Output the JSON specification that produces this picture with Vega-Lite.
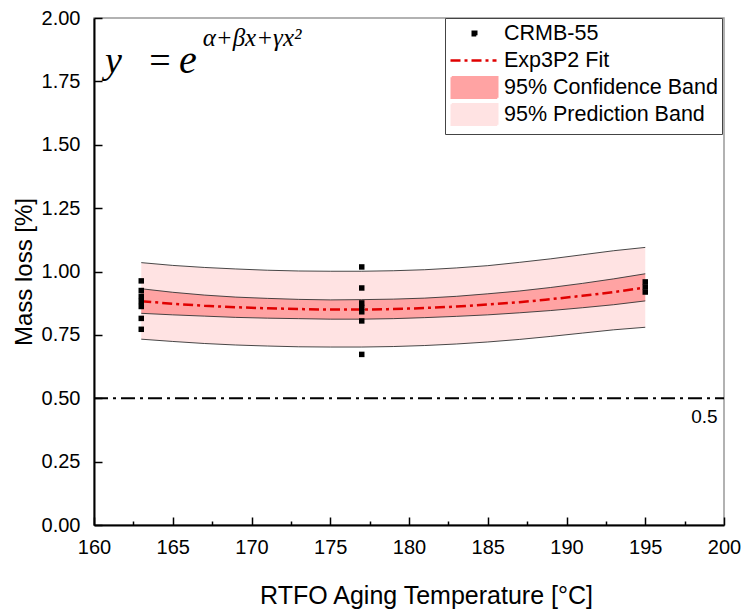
{
  "$schema": "https://vega.github.io/schema/vega-lite/v6.json",
  "width": 630,
  "height": 507,
  "autosize": {"type": "none"},
  "padding": {"left": 94, "top": 18, "right": 20, "bottom": 90},
  "background": "white",
  "config": {
    "view": {"stroke": "#999", "strokeWidth": 1.5},
    "font": "Liberation Sans",
    "legend": {
      "orient": "none",
      "legendX": 351,
      "legendY": 0,
      "direction": "vertical",
      "padding": 4,
      "strokeColor": "#444",
      "fillColor": "white",
      "labelFont": "Liberation Sans",
      "labelFontSize": 21.5,
      "labelColor": "black",
      "labelOffset": 32,
      "labelLimit": 400,
      "rowPadding": -4,
      "symbolSize": 400,
      "symbolStrokeWidth": 2.5
    }
  },
  "datasets": {
    "fit": [
      {"t": 163, "f": 0.883, "cl": 0.835, "cu": 0.932, "pl": 0.733, "pu": 1.035},
      {"t": 165, "f": 0.873, "cl": 0.829, "cu": 0.918, "pl": 0.724, "pu": 1.024},
      {"t": 167, "f": 0.865, "cl": 0.824, "cu": 0.907, "pl": 0.716, "pu": 1.016},
      {"t": 169, "f": 0.859, "cl": 0.819, "cu": 0.899, "pl": 0.710, "pu": 1.010},
      {"t": 171, "f": 0.855, "cl": 0.816, "cu": 0.894, "pl": 0.706, "pu": 1.005},
      {"t": 173, "f": 0.852, "cl": 0.814, "cu": 0.890, "pl": 0.703, "pu": 1.002},
      {"t": 175, "f": 0.850, "cl": 0.812, "cu": 0.888, "pl": 0.702, "pu": 1.001},
      {"t": 177, "f": 0.850, "cl": 0.812, "cu": 0.889, "pl": 0.702, "pu": 1.001},
      {"t": 179, "f": 0.852, "cl": 0.814, "cu": 0.891, "pl": 0.704, "pu": 1.003},
      {"t": 181, "f": 0.856, "cl": 0.818, "cu": 0.895, "pl": 0.708, "pu": 1.007},
      {"t": 183, "f": 0.862, "cl": 0.823, "cu": 0.902, "pl": 0.714, "pu": 1.014},
      {"t": 185, "f": 0.870, "cl": 0.829, "cu": 0.912, "pl": 0.722, "pu": 1.023},
      {"t": 187, "f": 0.879, "cl": 0.837, "cu": 0.923, "pl": 0.732, "pu": 1.036},
      {"t": 189, "f": 0.891, "cl": 0.846, "cu": 0.937, "pl": 0.744, "pu": 1.050},
      {"t": 191, "f": 0.904, "cl": 0.857, "cu": 0.953, "pl": 0.757, "pu": 1.066},
      {"t": 193, "f": 0.919, "cl": 0.869, "cu": 0.971, "pl": 0.770, "pu": 1.082},
      {"t": 195, "f": 0.937, "cl": 0.884, "cu": 0.991, "pl": 0.780, "pu": 1.095}
    ],
    "pts": [
      {"t": 163, "m": 0.963}, {"t": 163, "m": 0.925}, {"t": 163, "m": 0.902},
      {"t": 163, "m": 0.882}, {"t": 163, "m": 0.862}, {"t": 163, "m": 0.815},
      {"t": 163, "m": 0.772},
      {"t": 177, "m": 1.018}, {"t": 177, "m": 0.935}, {"t": 177, "m": 0.876},
      {"t": 177, "m": 0.858}, {"t": 177, "m": 0.841}, {"t": 177, "m": 0.805},
      {"t": 177, "m": 0.673},
      {"t": 195, "m": 0.959}, {"t": 195, "m": 0.939}, {"t": 195, "m": 0.919}
    ]
  },
  "encoding": {
    "x": {
      "field": "t", "type": "quantitative",
      "scale": {"domain": [160, 200], "nice": false, "zero": false},
      "axis": {
        "title": "RTFO Aging Temperature [°C]",
        "values": [160, 162.5, 165, 167.5, 170, 172.5, 175, 177.5, 180, 182.5, 185, 187.5, 190, 192.5, 195, 197.5, 200],
        "labelExpr": "datum.value % 5 === 0 ? format(datum.value, 'd') : ''",
        "grid": false,
        "domainColor": "black", "domainWidth": 2,
        "tickColor": "black", "tickWidth": 1.5,
        "tickSize": {"condition": {"test": "datum.value % 5 === 0", "value": -8}, "value": -4},
        "labelPadding": 20,
        "labelFontSize": 20, "labelColor": "black", "labelFont": "Liberation Sans",
        "labelFlush": false, "labelOverlap": false,
        "titleFontSize": 25, "titleFontWeight": "normal", "titleColor": "black", "titleFont": "Liberation Sans",
        "titlePadding": 22,
        "titleX": 332
      }
    }
  },
  "layer": [
    {
      "data": {"name": "fit"},
      "mark": {"type": "area", "opacity": 1},
      "encoding": {
        "y": {
          "field": "pu", "type": "quantitative",
          "scale": {"domain": [0, 2], "nice": false},
          "axis": {
            "title": "Mass loss [%]",
            "values": [0, 0.125, 0.25, 0.375, 0.5, 0.625, 0.75, 0.875, 1, 1.125, 1.25, 1.375, 1.5, 1.625, 1.75, 1.875, 2],
            "labelExpr": "(datum.value * 4) % 1 === 0 ? format(datum.value, '.2f') : ''",
            "grid": false,
            "domainColor": "black", "domainWidth": 2,
            "tickColor": "black", "tickWidth": 1.5,
            "tickSize": {"condition": {"test": "(datum.value * 4) % 1 === 0", "value": -8}, "value": -4},
            "labelPadding": 22,
            "labelFontSize": 20, "labelColor": "black", "labelFont": "Liberation Sans",
            "labelFlush": false, "labelOverlap": false,
            "titleFontSize": 24, "titleFontWeight": "normal", "titleColor": "black", "titleFont": "Liberation Sans",
            "titlePadding": 5
          }
        },
        "y2": {"field": "pl"},
        "color": {
          "datum": "95% Prediction Band",
          "type": "nominal",
          "scale": {
            "domain": ["CRMB-55", "Exp3P2 Fit", "95% Confidence Band", "95% Prediction Band"],
            "range": ["#000000", "#e00000", "#ffa3a3", "#ffe3e3"]
          },
          "legend": {
            "title": null,
            "symbolType": {"expr": "datum.value === 'CRMB-55' ? 'M1.225,-0.175H1.575V0.175H1.225ZM-0.875,-1.025L-0.875,-1.025M3.675,1.025L3.675,1.025' : datum.value === 'Exp3P2 Fit' ? 'M-1,0H3.6M-0.875,-1.025L-0.875,-1.025M3.675,1.025L3.675,1.025' : 'M-0.875,-1.025H3.675V1.025H-0.875Z'"},
            "symbolDash": {"expr": "datum.value === 'Exp3P2 Fit' ? [10, 4, 3, 4] : [1, 0]"},
            "symbolStrokeColor": {"expr": "scale('color', datum.value)"},
            "symbolOpacity": 1
          }
        }
      }
    },
    {
      "data": {"name": "fit"},
      "mark": {"type": "area", "opacity": 1},
      "encoding": {
        "y": {"field": "cu", "type": "quantitative"},
        "y2": {"field": "cl"},
        "color": {"datum": "95% Confidence Band", "type": "nominal"}
      }
    },
    {
      "data": {"name": "fit"},
      "mark": {"type": "line", "color": "#333", "strokeWidth": 0.9},
      "encoding": {"y": {"field": "pu", "type": "quantitative"}}
    },
    {
      "data": {"name": "fit"},
      "mark": {"type": "line", "color": "#333", "strokeWidth": 0.9},
      "encoding": {"y": {"field": "pl", "type": "quantitative"}}
    },
    {
      "data": {"name": "fit"},
      "mark": {"type": "line", "color": "#333", "strokeWidth": 0.9},
      "encoding": {"y": {"field": "cu", "type": "quantitative"}}
    },
    {
      "data": {"name": "fit"},
      "mark": {"type": "line", "color": "#333", "strokeWidth": 0.9},
      "encoding": {"y": {"field": "cl", "type": "quantitative"}}
    },
    {
      "data": {"name": "fit"},
      "mark": {"type": "line", "strokeWidth": 2.5, "strokeDash": [10, 4, 3, 4], "interpolate": "monotone"},
      "encoding": {
        "y": {"field": "f", "type": "quantitative"},
        "color": {"datum": "Exp3P2 Fit", "type": "nominal"}
      }
    },
    {
      "data": {"name": "pts"},
      "mark": {"type": "point", "shape": "square", "filled": true, "size": 30, "opacity": 1},
      "encoding": {
        "y": {"field": "m", "type": "quantitative"},
        "color": {"datum": "CRMB-55", "type": "nominal"}
      }
    },
    {
      "data": {"values": [{"v": 0.5}]},
      "mark": {"type": "rule", "color": "black", "strokeWidth": 2, "strokeDash": [14, 5, 3, 5]},
      "encoding": {"x": {"value": 0}, "x2": {"value": 630}, "y": {"field": "v", "type": "quantitative"}}
    },
    {
      "data": {"values": [{"t": 199.6, "v": 0.425, "s": "0.5"}]},
      "mark": {"type": "text", "align": "right", "baseline": "middle", "fontSize": 19, "font": "Liberation Sans", "color": "black"},
      "encoding": {"y": {"field": "v", "type": "quantitative"}, "text": {"field": "s"}}
    },
    {
      "data": {"values": [{"t": 160.7, "v": 1.783, "s": "y"}]},
      "mark": {"type": "text", "align": "left", "baseline": "alphabetic", "fontSize": 38, "font": "Liberation Serif", "fontStyle": "italic", "color": "black"},
      "encoding": {"y": {"field": "v", "type": "quantitative"}, "text": {"field": "s"}}
    },
    {
      "data": {"values": [{"t": 163.5, "v": 1.783, "s": "="}]},
      "mark": {"type": "text", "align": "left", "baseline": "alphabetic", "fontSize": 38, "font": "Liberation Serif", "color": "black"},
      "encoding": {"y": {"field": "v", "type": "quantitative"}, "text": {"field": "s"}}
    },
    {
      "data": {"values": [{"t": 165.4, "v": 1.783, "s": "e"}]},
      "mark": {"type": "text", "align": "left", "baseline": "alphabetic", "fontSize": 40, "font": "Liberation Serif", "fontStyle": "italic", "color": "black"},
      "encoding": {"y": {"field": "v", "type": "quantitative"}, "text": {"field": "s"}}
    },
    {
      "data": {"values": [{"t": 166.9, "v": 1.89, "s": "α+βx+γx²"}]},
      "mark": {"type": "text", "align": "left", "baseline": "alphabetic", "fontSize": 25, "font": "Liberation Serif", "fontStyle": "italic", "color": "black"},
      "encoding": {"y": {"field": "v", "type": "quantitative"}, "text": {"field": "s"}}
    }
  ]
}
